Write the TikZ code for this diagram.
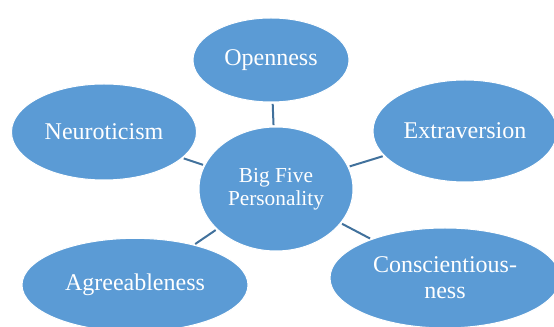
\documentclass[tikz,border=0pt]{standalone}
\usepackage{fontspec}
\setmainfont{Liberation Serif}
\usetikzlibrary{shapes.geometric}
\definecolor{traitblue}{HTML}{5B9BD5}
\definecolor{linkblue}{HTML}{41719C}

\begin{document}
\begin{tikzpicture}[x=0.75pt,y=-0.75pt,
trait/.style={ellipse,fill=traitblue,draw=white,line width=0.75pt,inner sep=0pt,
    text=white,align=center,font=\fontsize{18}{19.5}\selectfont},
link/.style={draw=linkblue,line width=1.5pt,shorten <=1pt,shorten >=1pt}]
\clip (0,0) rectangle (554,327);
\node (core) [trait,minimum width=115.5pt,minimum height=93pt,
    font=\fontsize{16}{17}\selectfont] at (276,189) {Big Five\\Personality};
\node (open) [trait,minimum width=117pt,minimum height=63pt] at (271,60) {Openness};
\node (neuro) [trait,minimum width=138.75pt,minimum height=72pt] at (104,132) {Neuroticism};
\node (extra) [trait,minimum width=138pt,minimum height=76.5pt] at (465,131) {Extraversion};
\node (agree) [trait,minimum width=169.5pt,minimum height=70pt] at (135,285) {Agreeableness};
\node (consc) [trait,minimum width=172.5pt,minimum height=75pt] at (445,278) {Conscientious-\\ness};
% links to the core
\draw [link] (open) -- (core);
\draw [link] (neuro) -- (core);
\draw [link] (extra) -- (core);
\draw [link] (agree) -- (core);
\draw [link] (consc) -- (core);
\end{tikzpicture}
\end{document}
